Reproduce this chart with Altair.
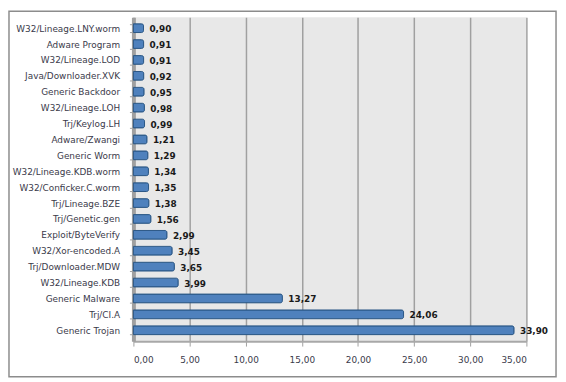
import altair as alt
import pandas as pd

categories = [
    "W32/Lineage.LNY.worm", "Adware Program", "W32/Lineage.LOD", "Java/Downloader.XVK",
    "Generic Backdoor", "W32/Lineage.LOH", "Trj/Keylog.LH", "Adware/Zwangi",
    "Generic Worm", "W32/Lineage.KDB.worm", "W32/Conficker.C.worm", "Trj/Lineage.BZE",
    "Trj/Genetic.gen", "Exploit/ByteVerify", "W32/Xor-encoded.A", "Trj/Downloader.MDW",
    "W32/Lineage.KDB", "Generic Malware", "Trj/CI.A", "Generic Trojan",
]
values = [0.90, 0.91, 0.91, 0.92, 0.95, 0.98, 0.99, 1.21, 1.29, 1.34, 1.35, 1.38,
          1.56, 2.99, 3.45, 3.65, 3.99, 13.27, 24.06, 33.90]
x_ticks = [0, 5, 10, 15, 20, 25, 30, 35]

df = pd.DataFrame({"cat": categories, "val": values})
df["label"] = [f"{v:.2f}".replace(".", ",") for v in values]

W, H = 398, 328
FONT = "DejaVu Sans"

y_enc = alt.Y("cat:N", sort=categories, title=None,
              scale=alt.Scale(paddingInner=0.45, paddingOuter=0.41),
              axis=alt.Axis(labelFontSize=9, labelColor="#3a3a4a", labelFont=FONT,
                            labelPadding=10, domainColor="#a0a0a0", domainWidth=4,
                            tickColor="#a0a0a0", tickSize=4, tickBand="extent",
                            grid=False))
x_enc = alt.X("val:Q", title=None,
              scale=alt.Scale(domain=[0, 35], nice=False),
              axis=alt.Axis(values=x_ticks,
                            labelExpr="replace(format(datum.value, '.2f'), '.', ',')",
                            labelFontSize=9, labelColor="#3a3a4a", labelFont=FONT,
                            labelPadding=10, domain=True, domainColor="#a8a8a8",
                            domainWidth=2, tickColor="#a0a0a0",
                            tickSize=5, grid=True, gridColor="#a0a0a0", gridWidth=1.5))

bars = alt.Chart(df).mark_bar(color="#4f81bd", stroke="#2b5786", strokeWidth=1,
                              cornerRadiusTopRight=2, cornerRadiusBottomRight=2).encode(
    x=x_enc, y=y_enc)

labels = alt.Chart(df).mark_text(align="left", baseline="middle", dx=6, dy=1,
                                 fontWeight="bold", fontSize=9, font=FONT,
                                 color="#1a1a1a").encode(
    x="val:Q", y=alt.Y("cat:N", sort=categories), text="label:N")

frame = alt.Chart(df.head(1)).mark_rect(filled=False, stroke="#8c8c8c", strokeWidth=1.5,
                                        clip=False).encode(
    x=alt.value(-126), x2=alt.value(W + 30), y=alt.value(-6), y2=alt.value(H + 36))

chart = alt.layer(bars, labels, frame).properties(
    width=W, height=H,
    autosize=alt.AutoSizeParams(type="none"),
    padding={"left": 127, "top": 7, "right": 32, "bottom": 40},
    background="white",
).configure_view(fill="#e8e8e8", stroke=None)

chart.save("out.html", embed_options={"renderer": "svg", "actions": False})
